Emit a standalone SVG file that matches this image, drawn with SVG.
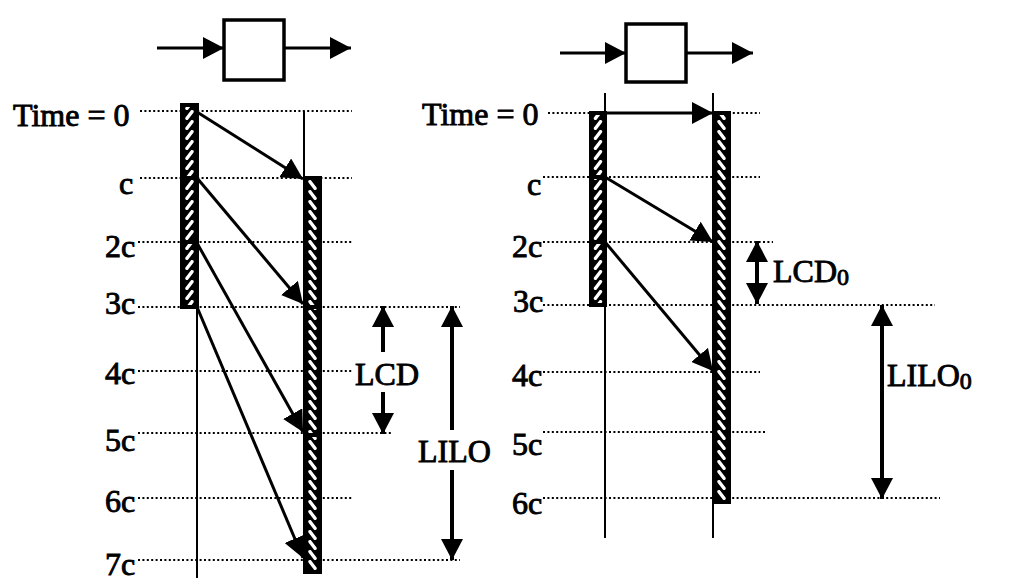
<svg xmlns="http://www.w3.org/2000/svg" width="1027" height="588" viewBox="0 0 1027 588">
<style>
.dot{stroke:#000;stroke-width:2.2;stroke-dasharray:2 2.4;fill:none}
.thin{stroke:#000;stroke-width:2;fill:none}
.box{fill:#fff;stroke:#000;stroke-width:3.5}
.bar{stroke:#000;stroke-width:4}
.div{stroke:#000;stroke-width:4}
.conn{stroke:#000;stroke-width:3;fill:none}
.dim{stroke:#000;stroke-width:4;fill:none}
.t{font-size:32px;fill:#000;stroke:#000;stroke-width:0.9}
.sub{font-size:24px}
</style>
<defs>
<marker id="ah" markerUnits="userSpaceOnUse" markerWidth="22" markerHeight="22" refX="21" refY="11" orient="auto"><path d="M0,0 L21,11 L0,22 z" fill="#000"/></marker>
<marker id="ahs" markerUnits="userSpaceOnUse" markerWidth="22" markerHeight="22" refX="21" refY="11" orient="auto-start-reverse"><path d="M0,0 L21,11 L0,22 z" fill="#000"/></marker>
<pattern id="pLL" patternUnits="userSpaceOnUse" x="182" y="0" width="15" height="10"><rect width="15" height="10" fill="#000"/><line x1="5" y1="8.3" x2="10" y2="1.7" stroke="#fff" stroke-width="3.4" stroke-linecap="round"/></pattern>
<pattern id="pLR" patternUnits="userSpaceOnUse" x="305" y="0" width="15" height="10"><rect width="15" height="10" fill="#000"/><line x1="5" y1="1.7" x2="10" y2="8.3" stroke="#fff" stroke-width="3.4" stroke-linecap="round"/></pattern>
<pattern id="pRL" patternUnits="userSpaceOnUse" x="591" y="0" width="14" height="10"><rect width="14" height="10" fill="#000"/><line x1="4.5" y1="8.3" x2="9.5" y2="1.7" stroke="#fff" stroke-width="3.4" stroke-linecap="round"/></pattern>
<pattern id="pRR" patternUnits="userSpaceOnUse" x="714" y="0" width="15" height="10"><rect width="15" height="10" fill="#000"/><line x1="5" y1="1.7" x2="10" y2="8.3" stroke="#fff" stroke-width="3.4" stroke-linecap="round"/></pattern>
</defs>

<g id="grid-left">
<line class="dot" x1="140" y1="111" x2="352" y2="111"/>
<line class="dot" x1="140" y1="178" x2="352" y2="178"/>
<line class="dot" x1="138" y1="242" x2="352" y2="242"/>
<line class="dot" x1="138" y1="307" x2="460" y2="307"/>
<line class="dot" x1="138" y1="371" x2="352" y2="371"/>
<line class="dot" x1="138" y1="433" x2="393" y2="433"/>
<line class="dot" x1="138" y1="498" x2="352" y2="498"/>
<line class="dot" x1="138" y1="560" x2="460" y2="560"/>
<line class="thin" x1="197" y1="307" x2="197" y2="578"/>
<line class="thin" x1="304" y1="111" x2="304" y2="178"/>
</g>

<g id="grid-right">
<line class="dot" x1="548" y1="113" x2="760" y2="113"/>
<line class="dot" x1="543" y1="177" x2="760" y2="177"/>
<line class="dot" x1="543" y1="242" x2="773" y2="242"/>
<line class="dot" x1="543" y1="305" x2="935" y2="305"/>
<line class="dot" x1="543" y1="372" x2="760" y2="372"/>
<line class="dot" x1="543" y1="432" x2="767" y2="432"/>
<line class="dot" x1="543" y1="498" x2="940" y2="498"/>
<line class="thin" x1="605" y1="93" x2="605" y2="538"/>
<line class="thin" x1="713" y1="93" x2="713" y2="538"/>
</g>

<g id="labels-left" font-family="'Liberation Serif', Tinos, 'Times New Roman', 'DejaVu Serif', serif">
<text class="t" x="13" y="126">Time = 0</text>
<text class="t" x="119" y="194">c</text>
<text class="t" x="105" y="257">2c</text>
<text class="t" x="105" y="314">3c</text>
<text class="t" x="105" y="384">4c</text>
<text class="t" x="105" y="451">5c</text>
<text class="t" x="105" y="512">6c</text>
<text class="t" x="105" y="575">7c</text>
</g>

<g id="labels-right" font-family="'Liberation Serif', Tinos, 'Times New Roman', 'DejaVu Serif', serif">
<text class="t" x="422" y="125">Time = 0</text>
<text class="t" x="527" y="195">c</text>
<text class="t" x="512" y="257">2c</text>
<text class="t" x="513" y="312">3c</text>
<text class="t" x="512" y="386">4c</text>
<text class="t" x="512" y="455">5c</text>
<text class="t" x="512" y="514">6c</text>
</g>

<g id="box-left"><rect class="box" x="224" y="20" width="60" height="60"/></g>
<g id="box-right"><rect class="box" x="626" y="24" width="60" height="58"/></g>

<g id="bar-left-producer">
<rect class="bar" x="182" y="105" width="15" height="202" fill="url(#pLL)"/>
<line class="div" x1="182" y1="178" x2="197" y2="178"/>
<line class="div" x1="182" y1="242" x2="197" y2="242"/>
</g>
<g id="bar-left-consumer">
<rect class="bar" x="305" y="178" width="15" height="394" fill="url(#pLR)"/>
<line class="div" x1="305" y1="307" x2="320" y2="307"/>
<line class="div" x1="305" y1="435" x2="320" y2="435"/>
</g>
<g id="bar-right-producer">
<rect class="bar" x="591" y="113" width="14" height="192" fill="url(#pRL)"/>
<line class="div" x1="591" y1="177" x2="605" y2="177"/>
<line class="div" x1="591" y1="242" x2="605" y2="242"/>
</g>
<g id="bar-right-consumer">
<rect class="bar" x="714" y="113" width="15" height="389" fill="url(#pRR)"/>
</g>

<g id="connectors">
<line class="conn" x1="157" y1="48" x2="224" y2="48" marker-end="url(#ah)"/>
<line class="conn" x1="284" y1="48" x2="351" y2="48" marker-end="url(#ah)"/>
<line class="conn" x1="560" y1="53" x2="626" y2="53" marker-end="url(#ah)"/>
<line class="conn" x1="686" y1="53" x2="753" y2="53" marker-end="url(#ah)"/>

<line class="conn" x1="197" y1="112" x2="303" y2="179" marker-end="url(#ah)"/>
<line class="conn" x1="197" y1="178" x2="303" y2="304" marker-end="url(#ah)"/>
<line class="conn" x1="197" y1="243" x2="303" y2="432" marker-end="url(#ah)"/>
<line class="conn" x1="197" y1="307" x2="303" y2="558" marker-end="url(#ah)"/>

<line class="conn" x1="605" y1="113" x2="713" y2="113" marker-end="url(#ah)"/>
<line class="conn" x1="605" y1="177" x2="713" y2="242" marker-end="url(#ah)"/>
<line class="conn" x1="605" y1="242" x2="713" y2="371" marker-end="url(#ah)"/>

<line class="dim" x1="383" y1="352" x2="383" y2="306" marker-end="url(#ah)"/>
<line class="dim" x1="383" y1="392" x2="383" y2="434" marker-end="url(#ah)"/>
<line class="dim" x1="452" y1="430" x2="452" y2="306" marker-end="url(#ah)"/>
<line class="dim" x1="452" y1="470" x2="452" y2="560" marker-end="url(#ah)"/>

<line class="dim" x1="757" y1="241" x2="757" y2="304" marker-start="url(#ahs)" marker-end="url(#ahs)"/>
<line class="dim" x1="882" y1="305" x2="882" y2="499" marker-start="url(#ahs)" marker-end="url(#ahs)"/>
</g>

<g id="dim-labels" font-family="'Liberation Serif', Tinos, 'Times New Roman', 'DejaVu Serif', serif">
<text class="t" x="355" y="385">LCD</text>
<text class="t" x="418" y="462">LILO</text>
<text class="t" x="773" y="282">LCD<tspan class="sub" dy="3">0</tspan></text>
<text class="t" x="887" y="386">LILO<tspan class="sub" dy="3">0</tspan></text>
</g>
</svg>
